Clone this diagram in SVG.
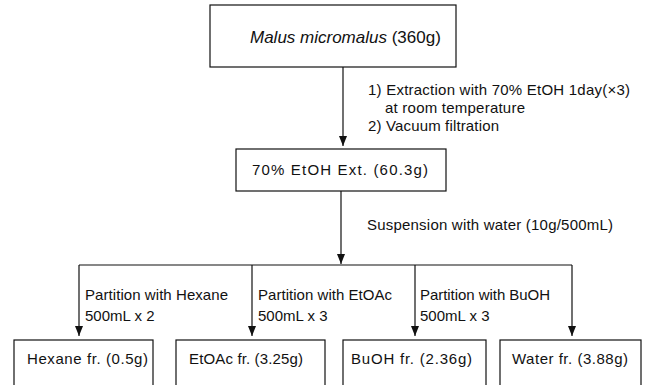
<svg xmlns="http://www.w3.org/2000/svg" width="645" height="385" viewBox="0 0 645 385">
  <style>
    .box { fill: #ffffff; stroke: #111111; stroke-width: 1.2; }
    .ln { fill: none; stroke: #111111; stroke-width: 1.2; }
    text { font-family: "Liberation Sans", Arial, sans-serif; font-size: 15px; fill: #111111; }
    .title { font-size: 17px; }
  </style>
  <defs>
    <marker id="ah" markerUnits="userSpaceOnUse" markerWidth="10" markerHeight="8" refX="10" refY="4" orient="auto" viewBox="0 0 10 8">
      <path d="M0,0 L10,4 L0,8 Z" fill="#111111"/>
    </marker>
  </defs>
  <rect width="645" height="385" fill="#ffffff"/>

  <g id="connectors">
    <line class="ln" x1="343" y1="67" x2="343" y2="146" marker-end="url(#ah)"/>
    <line class="ln" x1="341" y1="191" x2="341" y2="264" marker-end="url(#ah)"/>
    <line class="ln" x1="79" y1="265" x2="572" y2="265"/>
    <line class="ln" x1="79" y1="265" x2="79" y2="336" marker-end="url(#ah)"/>
    <line class="ln" x1="252" y1="265" x2="252" y2="336" marker-end="url(#ah)"/>
    <line class="ln" x1="415" y1="265" x2="415" y2="336" marker-end="url(#ah)"/>
    <line class="ln" x1="572" y1="265" x2="572" y2="336" marker-end="url(#ah)"/>
  </g>

  <g id="labels">
    <text x="368" y="95" textLength="262" lengthAdjust="spacing">1) Extraction with 70% EtOH 1day(×3)</text>
    <text x="385" y="113" textLength="140" lengthAdjust="spacing">at room temperature</text>
    <text x="368" y="131" textLength="131" lengthAdjust="spacing">2) Vacuum filtration</text>
    <text x="367" y="230" textLength="246" lengthAdjust="spacing">Suspension with water (10g/500mL)</text>
    <text x="85" y="300" textLength="143" lengthAdjust="spacing">Partition with Hexane</text>
    <text x="85" y="321">500mL x 2</text>
    <text x="258" y="300" textLength="134" lengthAdjust="spacing">Partition with EtOAc</text>
    <text x="258" y="321">500mL x 3</text>
    <text x="420" y="300" textLength="130" lengthAdjust="spacing">Partition with BuOH</text>
    <text x="420" y="321">500mL x 3</text>
  </g>

  <g id="node-malus">
    <rect class="box" x="210" y="5" width="246" height="62"/>
    <text class="title" x="250" y="43"><tspan font-style="italic">Malus micromalus</tspan> (360g)</text>
  </g>

  <g id="node-ext">
    <rect class="box" x="236" y="149" width="210" height="42"/>
    <text x="252" y="175" textLength="176" lengthAdjust="spacing">70% EtOH Ext. (60.3g)</text>
  </g>

  <g id="node-hexane">
    <rect class="box" x="14" y="340" width="139" height="60"/>
    <text x="27" y="364" textLength="121" lengthAdjust="spacing">Hexane fr. (0.5g)</text>
  </g>

  <g id="node-etoac">
    <rect class="box" x="176" y="340" width="149" height="60"/>
    <text x="189" y="364" textLength="114" lengthAdjust="spacing">EtOAc fr. (3.25g)</text>
  </g>

  <g id="node-buoh">
    <rect class="box" x="343" y="340" width="143" height="60"/>
    <text x="351" y="364" textLength="121" lengthAdjust="spacing">BuOH fr. (2.36g)</text>
  </g>

  <g id="node-water">
    <rect class="box" x="500" y="340" width="141" height="60"/>
    <text x="512" y="364" textLength="116" lengthAdjust="spacing">Water fr. (3.88g)</text>
  </g>
</svg>
